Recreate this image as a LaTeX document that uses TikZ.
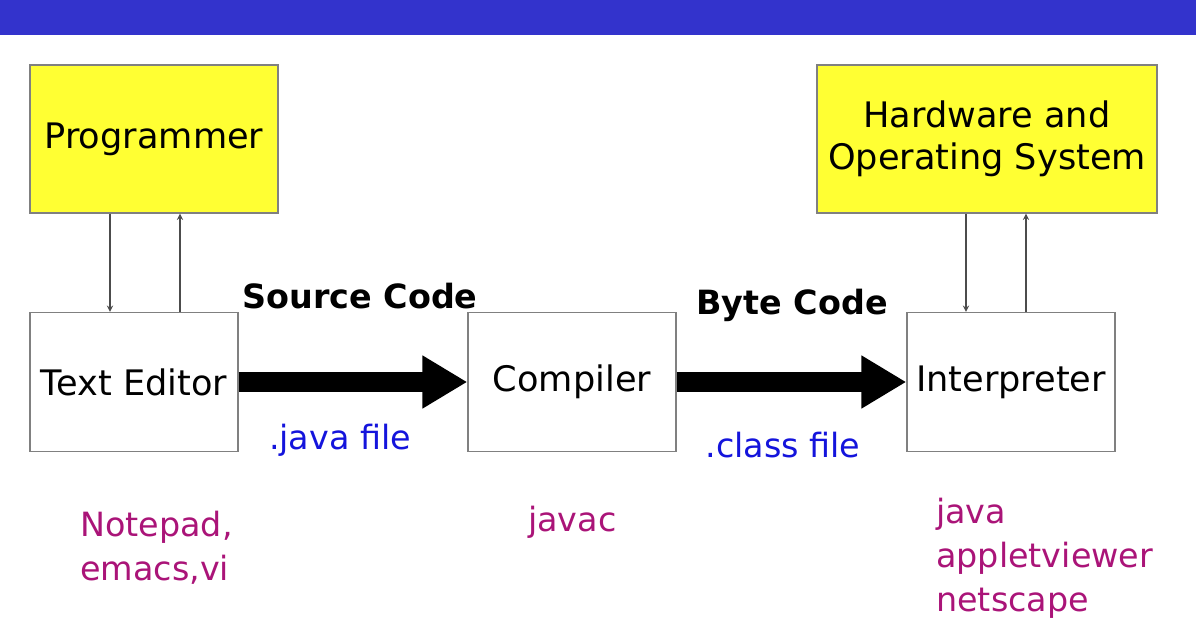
\documentclass[tikz,border=0pt]{standalone}
\usepackage{fontspec}
\setmainfont{DejaVu Sans}
\usepackage{tikz}
\definecolor{barblue}{RGB}{51,51,204}
\definecolor{boxyellow}{RGB}{255,255,51}
\definecolor{filered}{RGB}{170,20,120}
\definecolor{fileblue}{RGB}{20,20,220}
\tikzset{
  box/.style={draw=gray,line width=0.8pt,minimum width=4.16cm,minimum height=2.78cm,font=\fontsize{20}{24}\selectfont},
  ybox/.style={box,fill=boxyellow,align=center,minimum height=2.96cm},
  thin/.style={-stealth,gray!60!black,line width=0.6pt},
  fat/.style={-{Triangle[length=0.9cm,width=1.0cm]},line width=0.4cm},
  tool/.style={text=filered,align=left,font=\fontsize{19}{25}\selectfont,anchor=north west}
}
\usetikzlibrary{arrows.meta}
\begin{document}
\begin{tikzpicture}[x=0.02cm,y=-0.02cm]
\useasboundingbox (0,0) rectangle (1196,628);
\fill[barblue] (0,0) rectangle (1196,35);
\node (prog) [ybox,minimum width=4.96cm] at (154,139) {Programmer};
\node (hw) [ybox,minimum width=6.8cm] at (987,139) {Hardware and\\Operating System};
\node (edit) [box] at (134,382) {Text Editor};
\node (comp) [box] at (572,382) {Compiler};
\node (interp) [box] at (1011,382) {Interpreter};
\draw[thin] (prog.south -| 110,0) -- (edit.north -| 110,0);
\draw[thin] (edit.north -| 180,0) -- (prog.south -| 180,0);
\draw[thin] (hw.south -| 966,0) -- (interp.north -| 966,0);
\draw[thin] (interp.north -| 1026,0) -- (hw.south -| 1026,0);
\draw[fat] (edit.east) -- (comp.west);
\draw[fat] (comp.east) -- (interp.west);
\node (src) [font=\bfseries\fontsize{19}{22}\selectfont] at (360,296) {Source Code};
\node (byte) [font=\bfseries\fontsize{19}{22}\selectfont] at (792,305) {Byte Code};
\node (java) [text=fileblue,font=\fontsize{19}{22}\selectfont] at (340,440) {.java file};
\node (class) [text=fileblue,font=\fontsize{19}{22}\selectfont] at (783,445) {.class file};
\node (notepad) [tool] at (74,505) {Notepad,\\emacs,vi};
\node (javac) [tool] at (522,500) {javac};
\node (jvm) [tool] at (930,492) {java\\appletviewer\\netscape};
\end{tikzpicture}
\end{document}
